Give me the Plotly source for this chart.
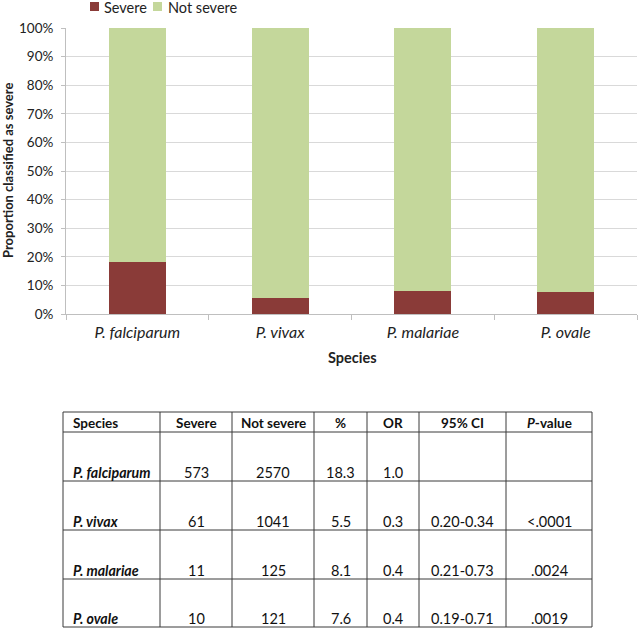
import plotly.graph_objects as go

# ---------------- data ----------------
species = ["P. falciparum", "P. vivax", "P. malariae", "P. ovale"]
severe_pct = [18.3, 5.5, 8.1, 7.6]
not_severe_pct = [81.7, 94.5, 91.9, 92.4]
y_ticks = [0, 10, 20, 30, 40, 50, 60, 70, 80, 90, 100]
y_tick_labels = ["0%", "10%", "20%", "30%", "40%", "50%", "60%", "70%", "80%", "90%", "100%"]

table_header = ["Species", "Severe", "Not severe", "%", "OR", "95% CI", "<i>P</i>-value"]
severe_n = ["573", "61", "11", "10"]
not_severe_n = ["2570", "1041", "125", "121"]
pct_col = ["18.3", "5.5", "8.1", "7.6"]
or_col = ["1.0", "0.3", "0.4", "0.4"]
ci_col = ["", "0.20-0.34", "0.21-0.73", "0.19-0.71"]
p_col = ["", "<.0001", ".0024", ".0019"]

# ---------------- style ----------------
FONT = "Lato"
C_SEV = "#8A3B38"
C_NOT = "#C4D79B"
GRID = "#D9D9D9"
AXIS = "#BFBFBF"
TXT = "#222222"

W, H = 640, 629
PL, PR, PT, PB = 66, 637, 28, 314


def xp(px):
    return (px - PL) / (PR - PL)


def yp(py):
    return (PB - py) / (PB - PT)


fig = go.Figure()
fig.add_trace(go.Bar(x=species, y=severe_pct, name="Severe", marker_color=C_SEV,
                     marker_line_width=0, showlegend=False))
fig.add_trace(go.Bar(x=species, y=not_severe_pct, name="Not severe", marker_color=C_NOT,
                     marker_line_width=0, showlegend=False))

shapes = []
annotations = []

# manual legend
leg = [("Severe", C_SEV, 90, 102), ("Not severe", C_NOT, 153, 166)]
for name, col, sx, tx in leg:
    shapes.append(dict(type="rect", xref="paper", yref="paper",
                       x0=xp(sx), x1=xp(sx + 9), y0=yp(11), y1=yp(2),
                       fillcolor=col, line_width=0))
    annotations.append(dict(xref="paper", yref="paper", x=xp(tx), y=yp(7.5),
                            xanchor="left", yanchor="middle", showarrow=False,
                            text=name, font=dict(family=FONT, size=14.5, color=TXT)))

# axis titles as annotations
annotations.append(dict(xref="paper", yref="paper", x=xp(8), y=yp(171),
                        xanchor="center", yanchor="middle", showarrow=False, textangle=-90,
                        text="<b>Proportion classified as severe</b>",
                        font=dict(family=FONT, size=13, color=TXT)))
annotations.append(dict(xref="paper", yref="paper", x=xp(352), y=yp(357),
                        xanchor="center", yanchor="middle", showarrow=False,
                        text="<b>Species</b>",
                        font=dict(family=FONT, size=14.5, color=TXT)))

# ---------------- table ----------------
col_x = [63, 160, 232, 314, 367, 419, 506, 592]
row_y = [412, 432, 481, 530, 579, 627]
LC = "#3A3A3A"
for cx in col_x:
    shapes.append(dict(type="line", xref="paper", yref="paper",
                       x0=xp(cx), x1=xp(cx), y0=yp(row_y[0]), y1=yp(row_y[-1]),
                       line=dict(color=LC, width=1)))
for ry in row_y:
    shapes.append(dict(type="line", xref="paper", yref="paper",
                       x0=xp(col_x[0]), x1=xp(col_x[-1]), y0=yp(ry), y1=yp(ry),
                       line=dict(color=LC, width=1)))


def cell(text, ci, ry_center, size, bold=False, italic=False):
    if ci == 0:
        x = xp(col_x[0] + 8)
        anchor = "left"
    else:
        x = xp((col_x[ci] + col_x[ci + 1]) / 2)
        anchor = "center"
    t = text if "<i>" in text else text.replace("<", "&lt;")
    if italic:
        t = "<i>" + t + "</i>"
    if bold:
        t = "<b>" + t + "</b>"
    annotations.append(dict(xref="paper", yref="paper", x=x, y=yp(ry_center),
                            xanchor=anchor, yanchor="middle", showarrow=False,
                            text=t, font=dict(family=FONT, size=size, color="#111111")))


for i, h in enumerate(table_header):
    cell(h, i, 422.5, 13.5, bold=True)

columns = [species, severe_n, not_severe_n, pct_col, or_col, ci_col, p_col]
for r in range(len(species)):
    yc = row_y[r + 2] - 9
    for c, col in enumerate(columns):
        if c == 0:
            cell(col[r], c, yc, 14.2, bold=True, italic=True)
        else:
            cell(col[r], c, yc, 14.5)

fig.update_layout(
    width=W, height=H,
    margin=dict(l=PL, r=W - PR, t=PT, b=H - PB, pad=0),
    barmode="stack", bargap=0.6,
    plot_bgcolor="white", paper_bgcolor="white",
    font=dict(family=FONT, size=13, color=TXT),
    shapes=shapes, annotations=annotations,
    showlegend=False,
    xaxis=dict(
        showgrid=False, showline=True, linecolor=AXIS, linewidth=1,
        ticks="outside", tickson="boundaries", ticklen=5, tickcolor=AXIS,
        tickfont=dict(family=FONT, size=16, color=TXT, style="italic"),
        ticklabelstandoff=4,
        automargin=False,
    ),
    yaxis=dict(
        range=[0, 100], tickmode="array", tickvals=y_ticks, ticktext=y_tick_labels,
        showgrid=True, gridcolor=GRID, gridwidth=1,
        showline=True, linecolor=AXIS, linewidth=1,
        ticks="outside", ticklen=4, tickcolor=AXIS,
        tickfont=dict(family=FONT, size=13.5, color=TXT),
        ticklabelstandoff=5,
        zeroline=False, automargin=False,
    ),
)

fig.write_html("out.html",
               config={"displayModeBar": False},
               post_script="document.body.style.margin='0';document.body.style.overflow='hidden';")
